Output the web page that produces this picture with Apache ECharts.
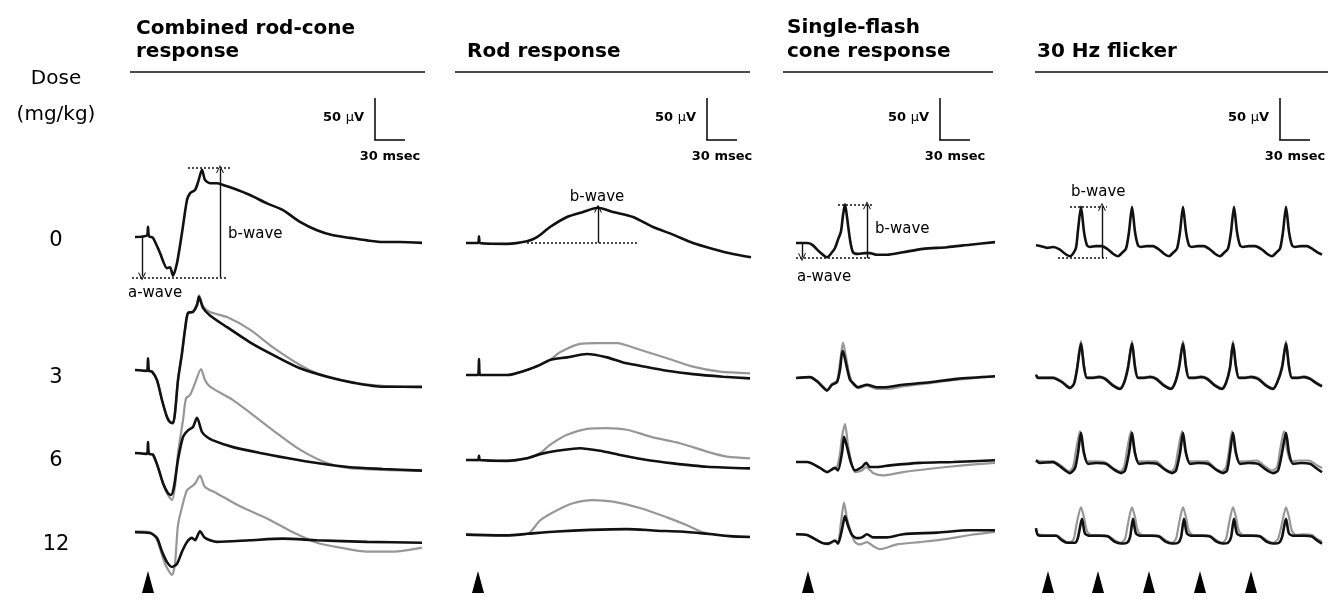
<!DOCTYPE html>
<html><head><meta charset="utf-8">
<script src="https://cdn.jsdelivr.net/npm/echarts@6.0.0/dist/echarts.min.js"></script>
<style>html,body{margin:0;padding:0;background:#fff}#c{width:1328px;height:613px}</style>
</head><body><div id="c"></div>
<script>
// ---------------- DATA (time in ms, amplitude in µV) ----------------
const columnTitles = [['Combined rod-cone', 'response'], ['Rod response'], ['Single-flash', 'cone response'], ['30 Hz flicker']];
const doseLabels = ['0', '3', '6', '12'];
const doseHeader = ['Dose', '(mg/kg)'];
const scaleAmplitudeLabel = '50 µV';
const scaleTimeLabel = '30 msec';
const scaleAmplitude = 50;   // µV
const scaleTime = 30;        // ms
const stimulusTimes = [[13], [12], [12], [12, 62, 113, 164, 215]];
const traceDurations = [287, 285, 199, 286];

// Combined rod-cone response
const combined0 = [[0,0],[12,2],[13,12],[14,1],[18,-1],[25,-19],[32,-37],[35,-36],[38,-46],[42,-31],[47,5],[52,44],[55,52],[60,56],[63,65],[67,80],[70,68],[75,64],[82,64],[88,62],[98,58],[115,50],[132,40],[148,32],[165,18],[182,8],[198,2],[215,-1],[232,-4],[248,-6],[265,-6],[287,-7]];
const combined3 = [[0,0],[12,-1],[13,14],[14,-1],[17,-2],[22,-12],[27,-36],[32,-56],[35,-62],[38,-63],[40,-51],[43,-12],[47,20],[50,48],[53,68],[58,69],[62,77],[64,87],[68,74],[75,65],[92,51],[115,33],[138,18],[165,2],[192,-8],[218,-15],[248,-20],[287,-20]];
const combined3Base = [[0,0],[12,-1],[17,-2],[22,-12],[27,-36],[32,-56],[35,-62],[38,-64],[40,-51],[43,-12],[47,20],[50,48],[53,68],[58,70],[62,79],[64,89],[68,76],[75,69],[92,63],[115,48],[138,27],[165,6],[182,-4],[200,-10],[218,-15],[248,-19],[287,-21]];
const combined6 = [[0,0],[12,-1],[13,13],[14,-1],[18,-2],[23,-17],[28,-36],[33,-48],[36,-50],[39,-40],[43,-8],[48,19],[53,27],[58,31],[62,42],[67,25],[72,19],[78,15],[98,7],[125,0],[152,-6],[182,-12],[215,-17],[248,-19],[287,-21]];
const combined6Base = [[0,0],[12,-1],[18,-2],[23,-17],[28,-36],[33,-50],[37,-56],[40,-40],[43,0],[48,39],[51,65],[55,69],[60,83],[66,100],[70,87],[75,79],[98,63],[115,48],[138,27],[165,4],[192,-12],[215,-18],[248,-20],[287,-21]];
const combined12 = [[0,0],[15,-1],[22,-7],[27,-24],[32,-37],[37,-43],[42,-39],[47,-24],[52,-12],[57,-7],[60,-10],[65,1],[70,-7],[82,-12],[115,-10],[148,-8],[182,-10],[232,-12],[287,-13]];
const combined12Base = [[0,1],[15,0],[22,-10],[30,-39],[37,-53],[40,-39],[43,9],[48,36],[52,52],[56,56],[60,60],[65,70],[70,56],[82,48],[105,32],[132,17],[158,0],[182,-13],[205,-19],[232,-24],[258,-24],[287,-19]];

// Rod response
const rod0 = [[0,0],[12,0],[13,8],[14,0],[41,-1],[61,2],[71,7],[84,19],[101,31],[117,37],[132,42],[147,37],[167,31],[187,19],[207,10],[227,0],[247,-7],[267,-13],[285,-17]];
const rod3 = [[0,0],[12,0],[13,19],[14,0],[41,0],[61,6],[74,12],[84,18],[101,21],[121,25],[141,21],[157,15],[174,11],[201,5],[227,1],[257,-2],[284,-4]];
const rod3Base = [[0,0],[41,0],[61,6],[74,12],[84,18],[94,27],[114,37],[131,38],[151,38],[174,30],[201,20],[227,10],[254,4],[284,2]];
const rod6 = [[0,0],[12,0],[13,5],[14,0],[41,-1],[61,2],[74,7],[91,11],[114,14],[134,11],[154,6],[181,0],[207,-4],[241,-8],[284,-10]];
const rod6Base = [[0,0],[41,-1],[61,2],[74,8],[84,18],[101,30],[121,37],[141,38],[161,36],[187,27],[214,20],[241,10],[261,4],[284,2]];
const rod12 = [[0,0],[41,-1],[61,1],[91,4],[124,6],[161,7],[191,5],[214,4],[241,1],[264,-2],[284,-3]];
const rod12Base = [[0,0],[41,-1],[62,1],[74,18],[91,31],[107,40],[127,44],[147,42],[174,34],[201,22],[221,12],[237,3],[264,-2],[284,-3]];

// Single-flash cone response
const cone0 = [[0,0],[11,0],[16,-2],[24,-11],[31,-17],[36,-11],[39,-6],[42,4],[45,14],[47,33],[49,46],[51,31],[54,4],[57,-11],[62,-13],[69,-12],[74,-12],[81,-14],[91,-14],[107,-11],[127,-7],[151,-5],[174,-2],[199,1]];
const cone3 = [[0,0],[14,1],[22,-5],[27,-11],[31,-15],[36,-8],[41,-5],[44,10],[46.5,32],[48,28],[51,12],[54,-2],[57,-6],[62,-11],[71,-8],[81,-11],[87,-11],[107,-8],[134,-5],[161,-1],[199,2]];
const cone3Base = [[0,0],[14,1],[22,-4],[27,-10],[31,-14],[36,-7],[41,-3],[44,18],[47,42],[50,25],[53,6],[57,-7],[62,-12],[71,-9],[81,-13],[91,-13],[107,-10],[134,-6],[161,-2],[199,2]];
const cone6 = [[0,0],[11,0],[24,-7],[31,-12],[39,-7],[42,-10],[46,11],[48,30],[51,18],[55,-1],[59,-10],[66,-6],[70,-1],[74,-6],[81,-6],[94,-4],[124,-1],[157,0],[199,2]];
const cone6Base = [[0,0],[11,0],[24,-7],[31,-12],[37,-8],[41,-6],[44,10],[46,30],[49,45],[52,20],[55,2],[59,-12],[66,-10],[70,-6],[77,-13],[87,-16],[107,-12],[134,-8],[167,-4],[199,-1]];
const cone12 = [[0,0],[11,-1],[26,-11],[32,-12],[39,-8],[42,-12],[46,6],[49,23],[52,11],[56,-1],[61,-5],[66,-4],[71,0],[77,-4],[91,-4],[107,0],[141,2],[174,5],[199,5]];
const cone12Base = [[0,0],[11,-1],[26,-11],[32,-13],[39,-9],[42,-10],[45,15],[48,40],[51,20],[54,6],[59,-10],[64,-13],[71,-10],[77,-15],[84,-19],[101,-13],[124,-10],[151,-6],[174,-1],[199,3]];

// 30 Hz flicker
const flicker0 = [[0,2],[5,1],[11,-1],[17,0],[24,-3],[29,-8],[34,-11],[37,-8],[40,-1],[42,20],[45,48],[48,18],[51,2],[54,0],[60,1],[66,1],[72,-3],[77,-8],[82,-11],[86,-7],[90,-2],[93,18],[96,48],[99,18],[102,2],[105,0],[111,1],[117,1],[123,-3],[128,-8],[133,-11],[137,-7],[141,-2],[144,18],[147,48],[150,18],[153,2],[156,0],[162,1],[168,1],[174,-3],[179,-8],[184,-11],[188,-7],[192,-2],[195,18],[198,48],[201,18],[204,2],[207,0],[213,1],[219,1],[226,-3],[231,-8],[236,-11],[240,-7],[244,-2],[247,18],[250,48],[253,18],[256,2],[259,0],[265,1],[271,1],[276,-2],[281,-6],[286,-9]];
const flicker3 = [[0,4],[2,0],[10,0],[17,0],[26,-5],[31,-10],[34,-12],[38,-7],[41,10],[45,41],[48,13],[51,0],[57,0],[63,1],[69,-1],[77,-9],[84,-13],[88,-6],[92,12],[96,41],[99,13],[102,0],[108,0],[114,1],[120,-1],[128,-9],[135,-13],[139,-6],[143,12],[147,41],[150,13],[153,0],[159,0],[165,1],[171,-1],[179,-9],[186,-13],[190,-6],[194,12],[197,41],[200,13],[203,0],[209,0],[215,1],[222,-1],[230,-9],[237,-13],[241,-6],[246,12],[250,41],[253,13],[256,0],[262,0],[268,1],[274,-1],[280,-6],[286,-10]];
const flicker3Base = [[0,3],[2,1],[10,1],[17,1],[26,-4],[31,-9],[34,-11],[38,-6],[41,13],[45,44],[48,15],[51,1],[57,1],[63,2],[69,0],[77,-8],[84,-12],[88,-5],[92,15],[96,44],[99,15],[102,1],[108,1],[114,2],[120,0],[128,-8],[135,-12],[139,-5],[143,15],[147,44],[150,15],[153,1],[159,1],[165,2],[171,0],[179,-8],[186,-12],[190,-5],[194,15],[197,44],[200,15],[203,1],[209,1],[215,2],[222,0],[230,-8],[237,-12],[241,-5],[246,15],[250,44],[253,15],[256,1],[262,1],[268,2],[274,0],[280,-5],[286,-9]];
const flicker6 = [[0,3],[4,0],[17,1],[25,-5],[34,-12],[39,-6],[42,12],[45,36],[48,12],[52,-1],[60,0],[70,-1],[78,-8],[85,-12],[89,-9],[93,12],[96,36],[99,12],[103,-1],[111,0],[121,-1],[129,-8],[136,-12],[140,-9],[144,12],[147,36],[150,12],[154,-1],[162,0],[172,-1],[180,-8],[187,-12],[191,-9],[194,12],[197,36],[200,12],[204,-1],[212,0],[222,-1],[230,-8],[237,-12],[242,-9],[246,12],[250,36],[253,12],[257,-1],[265,0],[274,-1],[280,-6],[286,-11]];
const flicker6Base = [[0,4],[4,2],[17,2],[25,-3],[33,-10],[37,-5],[40,15],[44,38],[47,16],[51,2],[59,2],[69,1],[77,-6],[84,-10],[88,-5],[91,15],[95,38],[98,16],[102,2],[110,2],[120,2],[128,-6],[135,-10],[139,-5],[142,15],[146,38],[149,16],[153,2],[161,2],[171,2],[179,-6],[186,-10],[190,-5],[193,15],[196,38],[199,16],[203,2],[211,2],[221,3],[229,-4],[236,-9],[241,-5],[244,15],[248,38],[251,16],[255,2],[263,3],[273,3],[280,-2],[286,-6]];
const flicker12 = [[0,10],[2,1],[10,0],[20,0],[26,-6],[31,-9],[39,-9],[42,-2],[46,22],[49,3],[54,0],[64,0],[72,-1],[79,-8],[85,-10],[91,-9],[94,-2],[97,22],[100,3],[105,0],[115,0],[123,-1],[130,-8],[136,-10],[142,-9],[145,-2],[148,22],[151,3],[156,0],[166,0],[174,-1],[181,-8],[187,-10],[192,-9],[195,-2],[198,22],[201,3],[206,0],[216,0],[224,-1],[231,-8],[237,-10],[243,-9],[246,-2],[250,22],[253,3],[258,0],[268,0],[276,-1],[281,-6],[286,-10]];
const flicker12Base = [[0,8],[2,2],[10,1],[20,1],[26,-4],[31,-8],[35,-8],[38,-3],[41,18],[45,37],[48,24],[51,6],[55,1],[64,1],[72,0],[79,-6],[85,-9],[89,-4],[92,16],[96,37],[99,24],[102,6],[106,1],[115,1],[123,0],[130,-6],[136,-9],[140,-4],[143,16],[147,37],[150,24],[153,6],[157,1],[166,1],[174,0],[181,-6],[186,-9],[190,-4],[193,16],[197,37],[200,24],[203,6],[207,1],[216,1],[224,0],[231,-6],[237,-9],[242,-4],[246,16],[250,37],[253,24],[256,6],[260,1],[268,2],[276,1],[281,-4],[286,-7]];

// Annotation measurements on the 0 mg/kg traces: [t1, v1, t2, v2]
const combinedDotted = [[53,82,95,82],[-3,-48,92,-48]];
const combinedArrows = [[7,0,7,-47],[85,-48,85,81]];
const rodDotted = [[61,0,171,0]];
const rodArrows = [[132,0,132,41]];
const coneDotted = [[42,46,76,46],[0,-18,76,-18]];
const coneArrows = [[6,0,6,-17],[71,-18,71,45]];
const flickerDotted = [[34,48,71,48],[22,-13,71,-13]];
const flickerArrows = [[66,-13,66,48]];

// ---------------- LAYOUT / STYLE ----------------
const PX_PER_MS = 1, PX_PER_UV = 0.84;
const Y_MIN = -100, Y_MAX = 150, X_PAD = 6;
const colStartX = [135, 466, 796, 1036];
const rowBaseY = [[237,370,453,537],[243,375,460,543],[243,378,462,542],[247,378,463,546]];
const doseY = [241, 378, 461, 545];
const titleLine = [[130,425],[455,750],[783,993],[1035,1328]];
const titleBaselines = [[29,52],[52],[28,52],[52]];
const scaleBarX = [375, 707, 940, 1280];
const FONT = '"DejaVu Sans", Verdana, sans-serif';
const BLACK = '#111', GRAY = '#979797';

const traces = [
  [[combined0,null],[combined3,combined3Base],[combined6,combined6Base],[combined12,combined12Base]],
  [[rod0,null],[rod3,rod3Base],[rod6,rod6Base],[rod12,rod12Base]],
  [[cone0,null],[cone3,cone3Base],[cone6,cone6Base],[cone12,cone12Base]],
  [[flicker0,null],[flicker3,flicker3Base],[flicker6,flicker6Base],[flicker12,flicker12Base]]
];
const annotations = [
  [combinedDotted, combinedArrows], [rodDotted, rodArrows], [coneDotted, coneArrows], [flickerDotted, flickerArrows]
];

const ARROW = 'path://M0,12 L6,0 L12,12 L10.4,12 L6,3.2 L1.6,12 Z';

const grids = [], xAxes = [], yAxes = [], series = [];
let gi = 0;
for (let c = 0; c < 4; c++) {
  const dur = traceDurations[c];
  for (let r = 0; r < 4; r++) {
    const base = rowBaseY[c][r];
    grids.push({ left: colStartX[c] - X_PAD * PX_PER_MS, width: (dur + X_PAD) * PX_PER_MS,
      top: base - Y_MAX * PX_PER_UV, height: (Y_MAX - Y_MIN) * PX_PER_UV, containLabel: false });
    xAxes.push({ gridIndex: gi, type: 'value', min: -X_PAD, max: dur, show: false });
    yAxes.push({ gridIndex: gi, type: 'value', min: Y_MIN, max: Y_MAX, show: false });
    const [blk, gry] = traces[c][r];
    if (gry) {
      series.push({ type: 'line', xAxisIndex: gi, yAxisIndex: gi, data: gry, showSymbol: false, smooth: 0.25,
        lineStyle: { color: GRAY, width: 2.2 }, animation: false, silent: true, z: 2 });
    }
    const s = { type: 'line', xAxisIndex: gi, yAxisIndex: gi, data: blk, showSymbol: false, smooth: 0.25,
      lineStyle: { color: BLACK, width: 2.6 }, animation: false, silent: true, z: 3 };
    if (r === 0) {
      const [dots, arrows] = annotations[c];
      const mlData = [];
      dots.forEach(d => mlData.push([
        { coord: [d[0], d[1]], symbol: 'none', lineStyle: { type: [2, 2], width: 1.7, color: '#111' } },
        { coord: [d[2], d[3]], symbol: 'none' }]));
      arrows.forEach(a => mlData.push([
        { coord: [a[0], a[1]], symbol: 'none', lineStyle: { type: 'solid', width: 1.4, color: '#111' } },
        { coord: [a[2], a[3]], symbol: ARROW, symbolSize: [8, 8] }]));
      s.markLine = { silent: true, animation: false, label: { show: false }, emphasis: { disabled: true },
        symbol: 'none', data: mlData };
    }
    series.push(s);
    gi++;
  }
  // stimulus marker grid
  grids.push({ left: colStartX[c] - X_PAD * PX_PER_MS, width: (dur + X_PAD) * PX_PER_MS, top: 570, height: 24 });
  xAxes.push({ gridIndex: gi, type: 'value', min: -X_PAD, max: dur, show: false });
  yAxes.push({ gridIndex: gi, type: 'value', min: 0, max: 1, show: false });
  series.push({ type: 'scatter', xAxisIndex: gi, yAxisIndex: gi, data: stimulusTimes[c].map(t => [t, 0.5]),
    symbol: 'triangle', symbolSize: [12, 22], itemStyle: { color: '#000', opacity: 1 }, animation: false, silent: true });
  gi++;
}

// ---------------- TEXT & FRAME GRAPHICS ----------------
const graphic = [];
function text(x, y, t, font, align, extra) {
  graphic.push(Object.assign({ type: 'text', x, y, silent: true,
    style: { text: t, font, fill: '#000', align: align || 'left', verticalAlign: 'middle' } }, extra || {}));
}
function line(x1, y1, x2, y2, w) {
  graphic.push({ type: 'line', silent: true, shape: { x1, y1, x2, y2 }, style: { stroke: '#111', lineWidth: w || 1.5 } });
}
text(56, 79, doseHeader[0], '20px ' + FONT, 'center');
text(56, 115, doseHeader[1], '20px ' + FONT, 'center');
doseLabels.forEach((d, i) => text(56, doseY[i], d, '21px ' + FONT, 'center'));
for (let c = 0; c < 4; c++) {
  columnTitles[c].forEach((t, k) => text(colStartX[c] + (c === 2 ? -9 : 1), titleBaselines[c][k], t, 'bold 20px ' + FONT, 'left'));
  line(titleLine[c][0], 72, titleLine[c][1], 72, 1.7);
  const bx = scaleBarX[c], by = 140;
  line(bx, by - scaleAmplitude * PX_PER_UV, bx, by, 1.6);
  line(bx - 0.8, by, bx + scaleTime * PX_PER_MS, by, 1.6);
  graphic.push({ type: 'text', x: bx - 11, y: 118, silent: true, style: {
    text: '{b|50 }{u|µ}{b|V}', align: 'right', verticalAlign: 'middle',
    rich: { b: { font: 'bold 13px ' + FONT, fill: '#000' }, u: { font: '13px ' + FONT, fill: '#000' } } } });
  text(bx + 15, 157, scaleTimeLabel, 'bold 13px ' + FONT, 'center');
}
const small = '15px ' + FONT;
text(228, 234, 'b-wave', small);
text(128, 293, 'a-wave', small);
text(597, 197, 'b-wave', small, 'center');
text(875, 229, 'b-wave', small);
text(797, 277, 'a-wave', small);
text(1071, 192, 'b-wave', small);

const chart = echarts.init(document.getElementById('c'), null, { renderer: 'canvas' });
chart.setOption({ backgroundColor: '#fff', animation: false, grid: grids, xAxis: xAxes, yAxis: yAxes, series, graphic });
</script>
</body></html>
